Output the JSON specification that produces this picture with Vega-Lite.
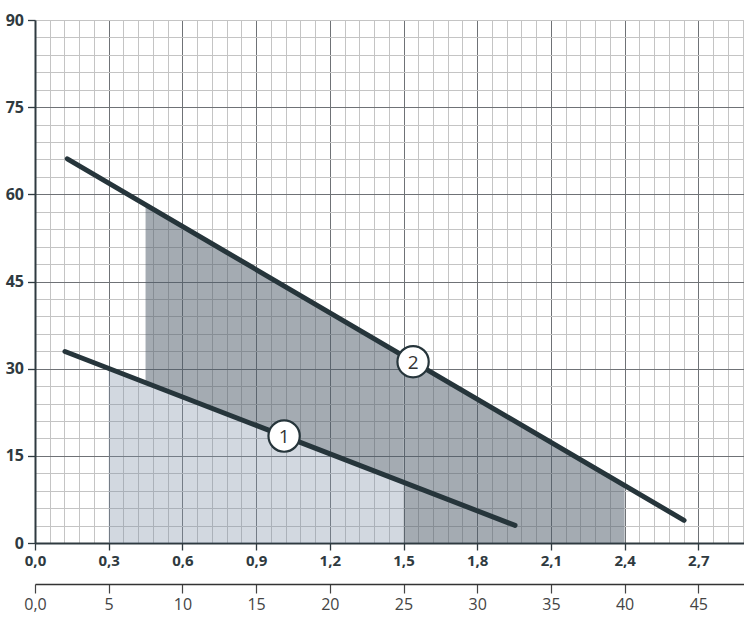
{
  "$schema": "https://vega.github.io/schema/vega-lite/v6.json",
  "width": 709,
  "height": 523,
  "autosize": {"type": "none"},
  "padding": {"left": 35, "top": 20, "right": 0, "bottom": 75},
  "background": "white",
  "config": {"view": {"stroke": null}},
  "datasets": {
    "zones": [
      {"part": "a", "q": 0.45, "top": 58.2, "bottom": 27.6},
      {"part": "a", "q": 1.5, "top": 32.2, "bottom": 10.4},
      {"part": "b", "q": 1.5, "top": 32.2, "bottom": 0},
      {"part": "b", "q": 2.4, "top": 9.9, "bottom": 0}
    ],
    "light": [
      {"q": 0.3, "top": 30.0, "bottom": 0},
      {"q": 1.5, "top": 10.4, "bottom": 0}
    ],
    "curves": [
      {"curve": "1", "q": 0.122, "h": 32.95},
      {"curve": "1", "q": 1.954, "h": 3.03},
      {"curve": "2", "q": 0.1315, "h": 66.1},
      {"curve": "2", "q": 2.642, "h": 3.9}
    ],
    "labels": [
      {"n": "1", "q": 1.014, "h": 18.4},
      {"n": "2", "q": 1.539, "h": 31.2}
    ]
  },
  "resolve": {"axis": {"x": "independent", "y": "independent"}},
  "layer": [
    {
      "data": {"name": "zones"},
      "mark": {"type": "area", "color": "#4a5766", "opacity": 0.5},
      "encoding": {
        "x": {
          "field": "q", "type": "quantitative",
          "scale": {"domain": [0, 2.886], "nice": false, "zero": false},
          "axis": {
            "orient": "bottom",
            "title": null,
            "values": [0, 0.06, 0.12, 0.18, 0.24, 0.3, 0.36, 0.42, 0.48, 0.54, 0.6, 0.66, 0.72, 0.78, 0.84, 0.9, 0.96, 1.02, 1.08, 1.14, 1.2, 1.26, 1.32, 1.38, 1.44, 1.5, 1.56, 1.62, 1.68, 1.74, 1.8, 1.86, 1.92, 1.98, 2.04, 2.1, 2.16, 2.22, 2.28, 2.34, 2.4, 2.46, 2.52, 2.58, 2.64, 2.7, 2.76, 2.82, 2.88],
            "labelExpr": "abs(datum.value*10/3 - round(datum.value*10/3)) < 0.01 ? replace(format(datum.value, '.1f'), '.', ',') : ''",
            "labelOverlap": false,
            "labelFlush": false,
            "labelBound": false,
            "labelFont": "Open Sans",
            "labelFontWeight": "bold",
            "labelFontSize": 15,
            "labelColor": "#2f3a40",
            "labelPadding": 3,
            "grid": true,
            "gridColor": {"condition": {"test": "abs(datum.value*10/3 - round(datum.value*10/3)) < 0.01", "value": "#6f7276"}, "value": "#c4c4c4"},
            "gridWidth": 1,
            "ticks": true,
            "tickSize": 7,
            "tickWidth": 1.3,
            "tickColor": "#2f3a40",
            "tickOpacity": {"condition": {"test": "abs(datum.value*10/3 - round(datum.value*10/3)) < 0.01", "value": 1}, "value": 0},
            "domain": true,
            "domainColor": "#2f3a40",
            "domainWidth": 2
          }
        },
        "y": {
          "field": "top", "type": "quantitative",
          "scale": {"domain": [0, 90], "nice": false},
          "axis": {
            "orient": "left",
            "title": null,
            "values": [0, 3, 6, 9, 12, 15, 18, 21, 24, 27, 30, 33, 36, 39, 42, 45, 48, 51, 54, 57, 60, 63, 66, 69, 72, 75, 78, 81, 84, 87, 90],
            "labelExpr": "datum.value % 15 == 0 ? datum.value : ''",
            "labelOverlap": false,
            "labelFlush": false,
            "labelBound": false,
            "labelFont": "Open Sans",
            "labelFontWeight": "bold",
            "labelFontSize": 16,
            "labelColor": "#2f3a40",
            "labelPadding": 4,
            "grid": true,
            "gridColor": {"condition": {"test": "datum.value % 15 == 0 && datum.value < 90", "value": "#6f7276"}, "value": "#c4c4c4"},
            "gridWidth": 1,
            "tickSize": 7.5,
            "tickWidth": 1.3,
            "tickColor": "#2f3a40",
            "tickOpacity": {"condition": {"test": "datum.value % 15 == 0", "value": 1}, "value": 0},
            "domain": true,
            "domainColor": "#2f3a40",
            "domainWidth": 2
          }
        },
        "y2": {"field": "bottom"},
        "detail": {"field": "part"}
      }
    },
    {
      "data": {"name": "light"},
      "mark": {"type": "area", "color": "#7d8fa5", "opacity": 0.35},
      "encoding": {
        "x": {"field": "q", "type": "quantitative", "axis": null},
        "y": {"field": "top", "type": "quantitative", "axis": null},
        "y2": {"field": "bottom"}
      }
    },
    {
      "data": {"name": "curves"},
      "mark": {"type": "line", "color": "#26353b", "strokeWidth": 5, "strokeCap": "round"},
      "encoding": {
        "x": {"field": "q", "type": "quantitative", "axis": null},
        "y": {"field": "h", "type": "quantitative", "axis": null},
        "detail": {"field": "curve"}
      }
    },
    {
      "data": {"name": "labels"},
      "mark": {"type": "point", "shape": "circle", "size": 980, "filled": true, "fill": "white", "stroke": "#26353b", "strokeWidth": 2.2, "opacity": 1},
      "encoding": {
        "x": {"field": "q", "type": "quantitative", "axis": null},
        "y": {"field": "h", "type": "quantitative", "axis": null}
      }
    },
    {
      "data": {"name": "labels"},
      "mark": {"type": "text", "font": "Open Sans", "fontSize": 19, "color": "#333333", "baseline": "middle", "align": "center", "dy": 1},
      "encoding": {
        "x": {
          "field": "q", "type": "quantitative",
          "axis": {
            "orient": "bottom",
            "offset": 41,
            "title": null,
            "values": [0, 0.3, 0.6, 0.9, 1.2, 1.5, 1.8, 2.1, 2.4, 2.7],
            "labelExpr": "datum.value == 0 ? '0,0' : format(round(datum.value/0.06), 'd')",
            "labelOverlap": false,
            "labelFlush": false,
            "labelBound": false,
            "labelFont": "Open Sans",
            "labelFontWeight": "normal",
            "labelFontSize": 16,
            "labelColor": "#444444",
            "labelPadding": 3,
            "grid": false,
            "tickSize": 9,
            "tickWidth": 1.2,
            "tickColor": "#444444",
            "domain": true,
            "domainColor": "#333333",
            "domainWidth": 1.5
          }
        },
        "y": {"field": "h", "type": "quantitative", "axis": null},
        "text": {"field": "n"}
      }
    }
  ]
}
